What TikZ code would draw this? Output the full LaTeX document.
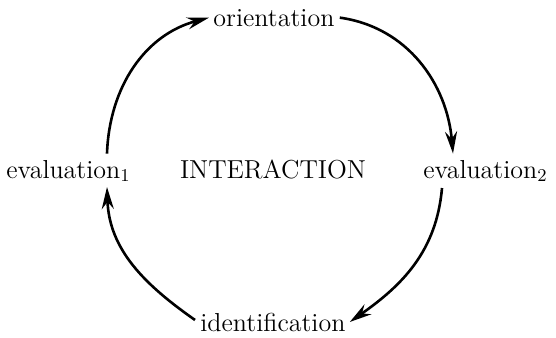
\documentclass[tikz,border=0pt]{standalone}
\usepackage{amsmath,amssymb}
\usepackage{tikz}
\usetikzlibrary{arrows.meta,calc,positioning}

\begin{document}
\begin{tikzpicture}[x=0.5pt,y=-0.5pt,
  word/.style={inner sep=0pt,font=\fontsize{13}{15}\selectfont},
  cyc/.style={line width=1.3pt,-{Stealth[length=11pt,width=6pt]}}]
  \useasboundingbox (0,0) rectangle (556,337);
  \node[word,anchor=base west] (ori) at (213,26) {orientation};
  \node[word,anchor=base west] (evA) at (6,178) {evaluation$_1$};
  \node[word,anchor=base] (inter) at (273,178) {INTERACTION};
  \node[word,anchor=base west] (evB) at (423,178) {evaluation$_2$};
  \node[word,anchor=base west] (ident) at (200,331) {identification};
  % the four arcs of the cycle
  \draw[cyc] ($(evA.north west)+(101,-6)$) to[out=88,in=195] ($(ori.west)+(-4,0)$);
  \draw[cyc] ($(ori.east)+(5,0)$) to[out=-8,in=95] ($(evB.north west)+(30,-6)$);
  \draw[cyc] ($(evB.south west)+(19,6)$) to[out=-95,in=35] ($(ident.east)+(4,0)$);
  \draw[cyc] ($(ident.west)+(-5,-2)$) to[out=145,in=-88] ($(evA.south west)+(101,5)$);
\end{tikzpicture}
\end{document}
